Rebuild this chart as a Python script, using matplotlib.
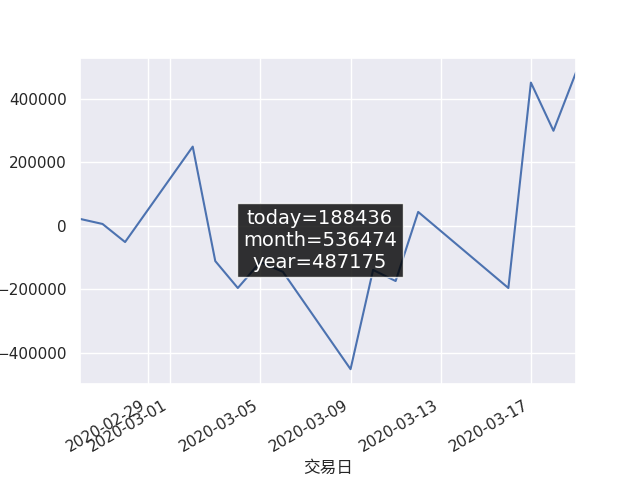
import matplotlib
matplotlib.use("Agg")
import matplotlib.pyplot as plt
import seaborn as sns
import pandas as pd

dates = pd.to_datetime([
    "2020-02-26", "2020-02-27", "2020-02-28", "2020-03-02", "2020-03-03",
    "2020-03-04", "2020-03-05", "2020-03-06", "2020-03-09", "2020-03-10",
    "2020-03-11", "2020-03-12", "2020-03-16", "2020-03-17", "2020-03-18",
    "2020-03-19",
])
values = [22000, 6000, -51000, 250000, -111000,
          -196000, -114000, -145000, -452000, -139000,
          -174000, 44000, -196000, 452000, 300000,
          484000]
summary = {"today": 188436, "month": 536474, "year": 487175}
xlabel = "交易日"

sns.set_theme(style="darkgrid")
plt.rcParams["font.family"] = ["DejaVu Sans", "Noto Sans CJK SC"]

fig, ax = plt.subplots(figsize=(6.4, 4.8), dpi=100)
ax.plot(dates, values, color="#4c72b0", linewidth=1.5)
ax.set_xlim(dates[0], dates[-1])
ax.set_xlabel(xlabel, family=["Noto Sans CJK SC", "DejaVu Sans"])
fig.autofmt_xdate()

text = "\n".join(f"{k}={v}" for k, v in summary.items())
fig.text(0.5, 0.5, text, ha="center", va="center", multialignment="center",
         fontsize=14, color="white", bbox=dict(facecolor="black", alpha=0.8))

fig.savefig("out.png", dpi=100)
